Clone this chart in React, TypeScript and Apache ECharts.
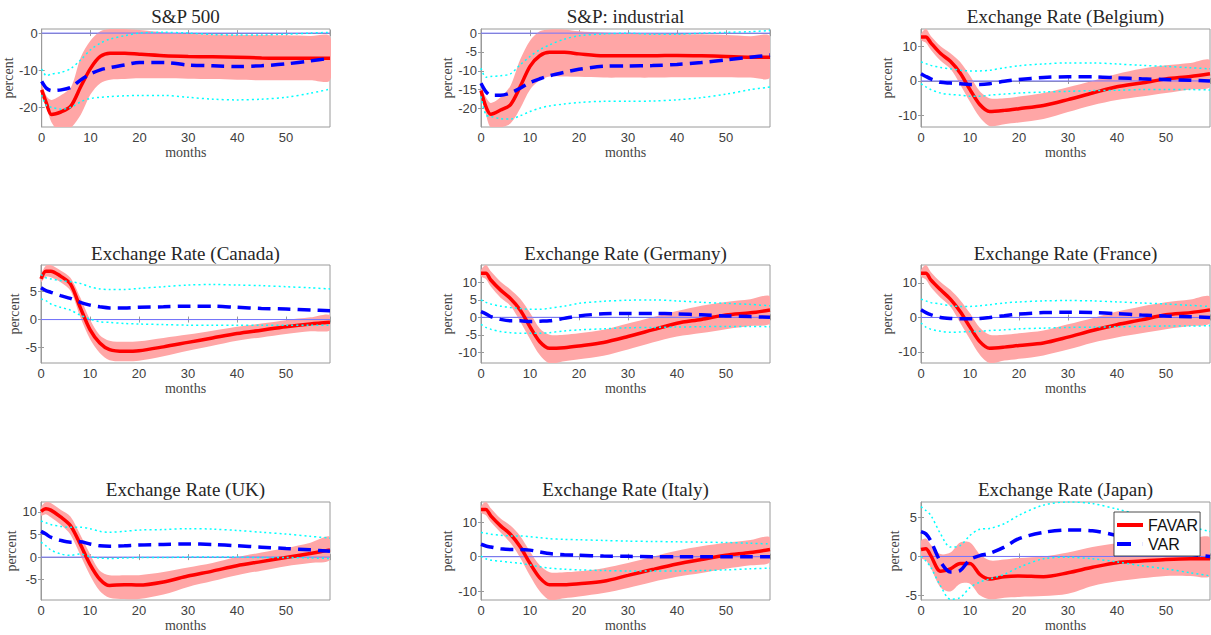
import React, { useEffect, useRef } from "react";
import * as echarts from "echarts";

const months = [0, 1, 2, 4, 6, 8, 10, 12, 14, 17, 20, 25, 30, 35, 40, 45, 50, 55, 59];
const xTicks = [0, 10, 20, 30, 40, 50];

const titles = [
  "S&P 500",
  "S&P: industrial",
  "Exchange Rate (Belgium)",
  "Exchange Rate (Canada)",
  "Exchange Rate (Germany)",
  "Exchange Rate (France)",
  "Exchange Rate (UK)",
  "Exchange Rate (Italy)",
  "Exchange Rate (Japan)",
];

// y-axis ranges and tick labels
const yMins = [-25.3, -24.9, -13.3, -7.8, -13.1, -13.2, -9.5, -12.5, -5.6];
const yMaxs = [1.1, 1.1, 15, 9.8, 15, 15.2, 12.2, 15.8, 7];
const yTicks = [
  [-20, -10, 0],
  [-20, -15, -10, -5, 0],
  [-10, 0, 10],
  [-5, 0, 5],
  [-10, -5, 0, 5, 10],
  [-10, 0, 10],
  [-5, 0, 5, 10],
  [-10, 0, 10],
  [-5, 0, 5],
];

// S&P 500
const sp500Favar = [-15.3, -19, -21.9, -21.2, -19.6, -14.4, -9.5, -6.3, -5.4, -5.4, -5.7, -6.1, -6.3, -6.4, -6.5, -6.7, -6.8, -6.8, -6.8];
const sp500FavarHi = [-14, -17, -18, -16.7, -14.6, -6.5, -2, 0.5, 1.1, 1.1, 0.8, 0.2, -0.2, -0.4, -0.5, -0.5, -0.6, -0.8, -0.9];
const sp500FavarLo = [-16.5, -20, -24, -27, -25.5, -22, -16.5, -13.5, -12.6, -12.4, -12.2, -12.2, -12.3, -12.4, -12.6, -12.7, -12.7, -12.7, -12.7];
const sp500Var = [-13, -14.9, -15.5, -15.3, -14.6, -12.6, -11, -9.9, -9.3, -8.6, -7.9, -7.9, -8.6, -8.8, -9, -8.8, -8.3, -7.5, -6.8];
const sp500VarHi = [-9.7, -11.5, -11, -10.6, -9.5, -7.2, -4.5, -2.7, -1.6, -0.7, 0, 0.2, 0, -0.4, -0.5, -0.5, -0.3, 0, 0.2];
const sp500VarLo = [-16.7, -19.6, -20, -20.5, -20, -18.5, -17.6, -17.3, -17.1, -16.9, -16.8, -16.8, -17.3, -17.8, -18, -17.8, -17.3, -16.2, -15.1];

// S&P industrial
const spIndFavar = [-15.2, -19.5, -21.5, -20.4, -19, -14.2, -8.8, -6, -5.1, -5.1, -5.5, -6, -6, -6, -5.9, -6, -6.2, -6.4, -6.4];
const spIndFavarHi = [-14.5, -17, -18.5, -17, -14, -7, -2, 0.5, 1, 1, 0.5, 0.2, 0, 0, -0.2, -0.3, -0.5, -0.8, -0.8];
const spIndFavarLo = [-16, -21.5, -25, -25, -24, -20, -15, -12.5, -11.5, -11.5, -11.6, -11.8, -11.8, -11.8, -11.7, -11.7, -11.7, -11.8, -11.8];
const spIndVar = [-13.3, -15.5, -16.5, -16.5, -15.9, -14.6, -13.1, -12.1, -11.3, -10.4, -9.6, -8.8, -8.7, -8.6, -8.3, -7.8, -7.1, -6.4, -5.8];
const spIndVarHi = [-9.3, -11.7, -11.5, -11.3, -10.8, -8.4, -6.2, -4.4, -3.1, -1.6, -0.7, -0.2, 0, -0.3, -0.3, 0, 0.2, 0.4, 0.7];
const spIndVarLo = [-16.8, -21.7, -22.1, -22.7, -22.8, -21.9, -20.8, -19.9, -19.3, -18.8, -18.4, -18.1, -18.1, -18, -17.7, -17.1, -16.2, -15, -14.3];

// Belgium
const belFavar = [12.7, 12.7, 11, 7.9, 5.7, 2.3, -2.5, -6.8, -8.8, -8.5, -8, -7.1, -5.4, -3.5, -1.7, -0.6, 0.6, 1.3, 2.1];
const belFavarHi = [13.5, 15, 13, 10, 8, 5.5, 1.5, -3, -5, -5, -4.5, -3.5, -1.8, 0, 2, 3.5, 4.5, 5.2, 6];
const belFavarLo = [11.8, 11, 9, 5.8, 3.5, -1, -6, -10.5, -13, -12.5, -12, -11, -9, -7, -5.5, -4.5, -3.5, -2.5, -1.7];
const belVar = [2.1, 1.3, 0.6, -0.4, -0.6, -0.8, -1, -1, -0.8, -0.1, 0.4, 1, 1.2, 1.2, 0.9, 0.6, 0.4, 0.2, 0];
const belVarHi = [5.5, 5, 4.5, 3.9, 3.5, 3.1, 2.9, 2.9, 3.1, 3.8, 4.4, 4.9, 5.2, 5.2, 4.9, 4.5, 4.2, 3.8, 3.5];
const belVarLo = [-0.8, -1.7, -2.5, -3.5, -3.9, -4.1, -4.4, -4.4, -4.1, -3.8, -3.5, -3.2, -3, -2.8, -2.7, -2.5, -2.5, -2.5, -2.6];

// Canada
const canFavar = [7.3, 8.7, 8.7, 7.8, 6.4, 2.2, -1.8, -4.2, -5.4, -5.7, -5.6, -4.9, -4.1, -3.3, -2.5, -1.9, -1.3, -0.8, -0.5];
const canFavarHi = [8, 9.7, 9.8, 8.8, 7.5, 4, 0, -2.8, -3.8, -4, -3.9, -3.3, -2.7, -2, -1.3, -0.7, -0.1, 0.4, 0.8];
const canFavarLo = [6.7, 7.7, 7.6, 6.7, 5.2, 0.5, -3.5, -6, -7.3, -7.5, -7.4, -6.6, -5.6, -4.7, -3.8, -3.2, -2.6, -2.1, -1.9];
const canVar = [5.7, 5.2, 4.9, 4.3, 3.8, 3.1, 2.6, 2.3, 2.1, 2.1, 2.2, 2.3, 2.4, 2.4, 2.2, 2, 1.9, 1.7, 1.6];
const canVarHi = [8.1, 7.5, 7.3, 7, 6.8, 6.5, 5.9, 5.5, 5.4, 5.4, 5.6, 5.9, 6.2, 6.3, 6.2, 6.1, 5.9, 5.7, 5.5];
const canVarLo = [3.7, 3.4, 2.8, 2.2, 1.7, 0.8, 0.1, -0.4, -0.5, -0.7, -0.8, -0.9, -1, -1, -1, -1, -1, -1, -1];

// Germany
const gerFavar = [12.6, 12.6, 10.7, 7.8, 5.4, 2.1, -2.7, -7, -8.9, -8.7, -8.2, -7.2, -5.5, -3.6, -1.7, -0.6, 0.7, 1.3, 2.1];
const gerFavarHi = [13.5, 15, 13.2, 10.2, 8, 5.3, 1.3, -3.2, -5, -5, -4.6, -3.6, -1.8, 0, 1.8, 3.3, 4.4, 5.2, 6];
const gerFavarLo = [11.8, 11, 8.8, 5.6, 3.3, -1.2, -6.2, -10.8, -13.2, -12.6, -12, -11, -9.2, -7.2, -5.5, -4.5, -3.4, -2.5, -1.7];
const gerVar = [1.6, 1, 0.2, -0.6, -1, -1, -1.2, -1.1, -1, -0.3, 0.4, 1, 1.1, 1.1, 1, 0.7, 0.4, 0.2, 0];
const gerVarHi = [5, 4.3, 3.8, 3.2, 2.8, 2.5, 2.3, 2.3, 2.6, 3.2, 4, 4.6, 4.9, 5, 4.7, 4.3, 4, 3.7, 3.3];
const gerVarLo = [-2, -2.9, -3.4, -4.1, -4.4, -4.6, -4.6, -4.6, -4.4, -3.9, -3.6, -3.3, -3, -2.9, -2.8, -2.7, -2.6, -2.6, -2.7];

// France
const fraFavar = [12.8, 12.8, 10.9, 8, 5.3, 1.7, -2.8, -7, -8.9, -8.6, -8.1, -7.4, -5.7, -3.8, -2.1, -0.7, 0.8, 1.4, 2.2];
const fraFavarHi = [13.7, 15.2, 13.2, 10.3, 8, 5, 1.2, -3, -5, -5, -4.6, -3.8, -2, -0.2, 1.7, 3.2, 4.4, 5.2, 6];
const fraFavarLo = [11.9, 11, 8.8, 5.7, 3.2, -1.5, -6.3, -10.8, -13.2, -12.5, -12, -11, -9.3, -7.3, -5.8, -4.6, -3.4, -2.5, -1.6];
const fraVar = [2.2, 1.4, 0.8, 0, -0.3, -0.4, -0.4, -0.3, 0, 0.5, 1, 1.4, 1.5, 1.4, 1.1, 0.7, 0.4, 0.2, 0];
const fraVarHi = [5.3, 4.8, 4.3, 3.9, 3.4, 3.2, 3.2, 3.4, 3.7, 4.2, 4.5, 4.8, 4.9, 4.8, 4.5, 4.2, 3.9, 3.5, 3.2];
const fraVarLo = [-1.6, -2.8, -3.4, -4, -4.3, -4.2, -4.1, -4, -3.8, -3.6, -3.3, -3.1, -2.9, -2.8, -2.7, -2.6, -2.5, -2.5, -2.4];

// UK
const ukFavar = [10.1, 10.7, 10.4, 8.9, 7, 2.9, -1.6, -4.9, -6.3, -6.1, -6.2, -5.5, -4.2, -3.1, -1.9, -1, -0.1, 0.8, 1.6];
const ukFavarHi = [11, 12.2, 12, 10.5, 9, 5, 0.7, -3, -4, -4, -4, -3.3, -2.3, -1.3, 0, 1, 2, 3.2, 4.5];
const ukFavarLo = [9.2, 9.5, 8.8, 7.2, 5, 0.5, -4, -7.5, -9, -9.3, -9.3, -8.3, -6.6, -5.3, -4, -3, -2, -1.3, -0.6];
const ukVar = [5.7, 5.1, 4.4, 3.7, 3.3, 3.4, 2.9, 2.5, 2.4, 2.5, 2.7, 2.8, 2.9, 2.8, 2.5, 2.2, 1.9, 1.6, 1.3];
const ukVarHi = [8, 7.6, 7.2, 6.8, 6.6, 6.6, 6.3, 5.7, 5.5, 5.7, 6, 6.1, 6.3, 6.2, 5.9, 5.5, 5.1, 4.6, 4.2];
const ukVarLo = [3.3, 2.5, 1.6, 0.7, 0.4, 0.7, 0.1, -0.2, -0.3, -0.2, -0.1, -0.1, 0, 0, 0, -0.1, -0.1, -0.2, -0.3];

// Italy
const itaFavar = [13.6, 13.6, 11.8, 8.9, 6.5, 2.9, -1.9, -6.1, -8.1, -8.1, -7.8, -7.1, -5.4, -3.7, -2.1, -0.8, 0.4, 1.2, 2.1];
const itaFavarHi = [14.5, 15.8, 14, 11, 9, 6, 1.5, -2.5, -4.5, -4.5, -4.2, -3.3, -1.8, 0, 1.7, 3, 4, 4.8, 5.6];
const itaFavarLo = [12.7, 12, 10, 7, 4, -0.3, -5.5, -10, -12.5, -12, -11.5, -10.5, -9, -7.3, -5.8, -4.7, -3.5, -2.5, -1.5];
const itaVar = [3.6, 3.1, 2.8, 2.3, 2.1, 2.1, 1.9, 1.4, 0.9, 0.6, 0.4, 0.2, 0.1, 0, 0, 0, 0, 0, 0];
const itaVarHi = [7, 6.8, 6.5, 6.2, 6, 6, 5.8, 5.5, 5.2, 5, 4.9, 4.7, 4.5, 4.4, 4.3, 4.2, 4.1, 3.9, 3.7];
const itaVarLo = [0.2, -0.6, -1, -1.3, -1.6, -1.9, -2.4, -2.9, -3.3, -3.6, -3.8, -4, -4.1, -4.1, -4.1, -4, -3.8, -3.5, -3.3];

// Japan
const jpnFavar = [0.9, 1, 0.1, -1.9, -1.6, -0.9, -0.9, -2.3, -2.9, -2.6, -2.5, -2.6, -2.1, -1.4, -0.8, -0.6, -0.4, -0.3, -0.3];
const jpnFavarHi = [2, 2.3, 1.5, 0.3, 0.5, 1.8, 1.8, 0.3, -0.5, -0.4, -0.2, 0, 0.5, 1.2, 1.7, 2, 2.2, 2.3, 2.4];
const jpnFavarLo = [-0.2, -0.5, -1.5, -4, -4.5, -3.5, -3.5, -5, -5.5, -5.3, -5.2, -5.1, -4.8, -3.8, -3.2, -2.8, -2.5, -2.5, -2.5];
const jpnVar = [3.2, 2.9, 2, -0.7, -2, -1.8, -0.4, 0.1, 0.4, 1.2, 2.3, 3.1, 3.4, 3.3, 2.7, 1.8, 1, 0.3, 0];
const jpnVarHi = [6.4, 5.9, 5.3, 2.9, 1.2, 1.4, 2.7, 3.5, 3.6, 4.2, 5.3, 6.6, 7, 6.8, 6.1, 5.3, 4.4, 3.8, 3.2];
const jpnVarLo = [0, -0.6, -1.4, -3.8, -5.5, -5.3, -4, -3.3, -2.9, -2.3, -1.4, -0.3, -0.1, -0.3, -0.7, -1.2, -1.6, -2.1, -2.5];

const favarAll = [sp500Favar, spIndFavar, belFavar, canFavar, gerFavar, fraFavar, ukFavar, itaFavar, jpnFavar];
const favarHiAll = [sp500FavarHi, spIndFavarHi, belFavarHi, canFavarHi, gerFavarHi, fraFavarHi, ukFavarHi, itaFavarHi, jpnFavarHi];
const favarLoAll = [sp500FavarLo, spIndFavarLo, belFavarLo, canFavarLo, gerFavarLo, fraFavarLo, ukFavarLo, itaFavarLo, jpnFavarLo];
const varAll = [sp500Var, spIndVar, belVar, canVar, gerVar, fraVar, ukVar, itaVar, jpnVar];
const varHiAll = [sp500VarHi, spIndVarHi, belVarHi, canVarHi, gerVarHi, fraVarHi, ukVarHi, itaVarHi, jpnVarHi];
const varLoAll = [sp500VarLo, spIndVarLo, belVarLo, canVarLo, gerVarLo, fraVarLo, ukVarLo, itaVarLo, jpnVarLo];

// layout
const colLeft = [41, 481, 921];
const rowTop = [29, 265, 502];
const gridW = 289;
const gridH = 98;
const titleTop = [7, 244, 480];
const yNameGap = [25, 23, 25, 19, 24, 25, 22, 25, 18];

const SERIF = "'Liberation Serif', 'Times New Roman', serif";
const SANS = "'Liberation Sans', Arial, Helvetica, sans-serif";
const BORDER = "#9a9a9a";
const SMOOTH = 0.3;

function pairs(ys: number[]) {
  return months.map((m, i) => [m, ys[i]]);
}

function buildOption() {
  const grid: any[] = [];
  const xAxis: any[] = [];
  const yAxis: any[] = [];
  const title: any[] = [];
  const series: any[] = [];

  for (let i = 0; i < 9; i++) {
    const r = Math.floor(i / 3);
    const c = i % 3;
    grid.push({
      left: colLeft[c],
      top: rowTop[r],
      width: gridW,
      height: gridH,
      show: true,
      borderColor: BORDER,
      borderWidth: 1,
      backgroundColor: "transparent",
      containLabel: false,
    });
    title.push({
      text: titles[i],
      left: colLeft[c] + gridW / 2,
      top: titleTop[r],
      textAlign: "center",
      padding: 0,
      textStyle: { fontFamily: SERIF, fontSize: 19, fontWeight: "normal", color: "#262626" },
    });
  }

  for (let i = 0; i < 9; i++) {
    xAxis.push({
      type: "value",
      gridIndex: i,
      min: 0,
      max: 59,
      interval: 10,
      name: "months",
      nameLocation: "middle",
      nameGap: 18,
      nameTextStyle: { fontFamily: SERIF, fontSize: 14, color: "#444" },
      axisLine: { show: true, lineStyle: { color: BORDER, width: 1 } },
      axisTick: { show: true, inside: true, length: 3, lineStyle: { color: BORDER } },
      axisLabel: { fontFamily: SANS, fontSize: 13, color: "#404040", margin: 4, customValues: xTicks },
      splitLine: { show: false },
    });
    yAxis.push({
      type: "value",
      gridIndex: i,
      min: yMins[i],
      max: yMaxs[i],
      name: "percent",
      nameLocation: "middle",
      nameGap: yNameGap[i],
      nameRotate: 90,
      nameTextStyle: { fontFamily: SERIF, fontSize: 14, color: "#444" },
      axisLine: { show: true, lineStyle: { color: BORDER, width: 1 } },
      axisTick: { show: true, inside: true, length: 3, lineStyle: { color: BORDER }, customValues: yTicks[i] },
      axisLabel: { fontFamily: SANS, fontSize: 13, color: "#404040", margin: 4, customValues: yTicks[i] },
      splitLine: { show: false },
    });
  }
  // mirrored axes (top / right) carrying inward ticks only
  for (let i = 0; i < 9; i++) {
    xAxis.push({
      type: "value",
      gridIndex: i,
      position: "top",
      min: 0,
      max: 59,
      interval: 10,
      axisLine: { show: false },
      axisTick: { show: true, inside: true, length: 3, lineStyle: { color: BORDER } },
      axisLabel: { show: false },
      splitLine: { show: false },
    });
    yAxis.push({
      type: "value",
      gridIndex: i,
      position: "right",
      min: yMins[i],
      max: yMaxs[i],
      axisLine: { show: false },
      axisTick: { show: true, inside: true, length: 3, lineStyle: { color: BORDER }, customValues: yTicks[i] },
      axisLabel: { show: false },
      splitLine: { show: false },
    });
  }

  for (let i = 0; i < 9; i++) {
    const base = { xAxisIndex: i, yAxisIndex: i, animation: false };
    const lo = favarLoAll[i];
    const hi = favarHiAll[i];
    // FAVAR confidence band: polygon through the library's coordinate mapping
    series.push({
      ...base,
      type: "custom",
      name: "band" + i,
      clip: true,
      silent: true,
      z: 1,
      data: [[0, 0]],
      renderItem: (_params: any, api: any) => {
        const up = months.map((m, k) => api.coord([m, hi[k]]));
        const dn = months.map((m, k) => api.coord([m, lo[k]])).reverse();
        return {
          type: "polygon",
          shape: { points: up.concat(dn), smooth: SMOOTH },
          style: { fill: "#ffa6a6", stroke: "none" },
        };
      },
    });
    const lineBase = { ...base, type: "line", symbol: "none", showSymbol: false, smooth: SMOOTH };
    series.push({
      ...lineBase,
      name: "zero" + i,
      smooth: false,
      data: [[0, 0], [59, 0]],
      lineStyle: { color: "#7373ff", width: 1 },
      silent: true,
      z: 2,
    });
    series.push({
      ...lineBase,
      name: "FAVAR",
      data: pairs(favarAll[i]),
      itemStyle: { color: "#ff0000" },
      lineStyle: { color: "#ff0000", width: 3.5 },
      z: 3,
    });
    series.push({
      ...lineBase,
      name: "VAR",
      data: pairs(varAll[i]),
      itemStyle: { color: "#0000ff" },
      lineStyle: { color: "#0000ff", width: 3.5, type: [13, 7] },
      z: 4,
    });
    series.push({
      ...lineBase,
      name: "varHi" + i,
      data: pairs(varHiAll[i]),
      lineStyle: { color: "#00ffff", width: 1.5, type: [2, 3] },
      silent: true,
      z: 5,
    });
    series.push({
      ...lineBase,
      name: "varLo" + i,
      data: pairs(varLoAll[i]),
      lineStyle: { color: "#00ffff", width: 1.5, type: [2, 3] },
      silent: true,
      z: 5,
    });
  }

  return {
    animation: false,
    backgroundColor: "#ffffff",
    title,
    grid,
    xAxis,
    yAxis,
    legend: {
      data: [
        { name: "FAVAR", icon: "rect", itemStyle: { color: "#ff0000" } },
        { name: "VAR", icon: "path://M0,0H14V4H0Z M25.9,0H26V4H25.9Z", itemStyle: { color: "#0000ff" } },
      ],
      orient: "vertical",
      left: 1114,
      top: 512,
      itemWidth: 26,
      itemHeight: 4,
      itemGap: 3,
      padding: [5, 2, 4, 3],
      backgroundColor: "#ffffff",
      borderColor: "#222",
      borderWidth: 0.8,
      borderRadius: 0,
      selectedMode: false,
      z: 10,
      textStyle: { fontFamily: SANS, fontSize: 16, color: "#111", lineHeight: 16 },
    },
    series,
  };
}

export default function App() {
  const ref = useRef<HTMLDivElement>(null);
  useEffect(() => {
    if (!ref.current) return;
    const chart = echarts.init(ref.current, undefined, { renderer: "svg" });
    chart.setOption(buildOption() as any);
    return () => chart.dispose();
  }, []);
  return (
    <div
      ref={ref}
      style={{ position: "absolute", left: 0, top: 0, width: 1211, height: 635, background: "#fff" }}
    />
  );
}
